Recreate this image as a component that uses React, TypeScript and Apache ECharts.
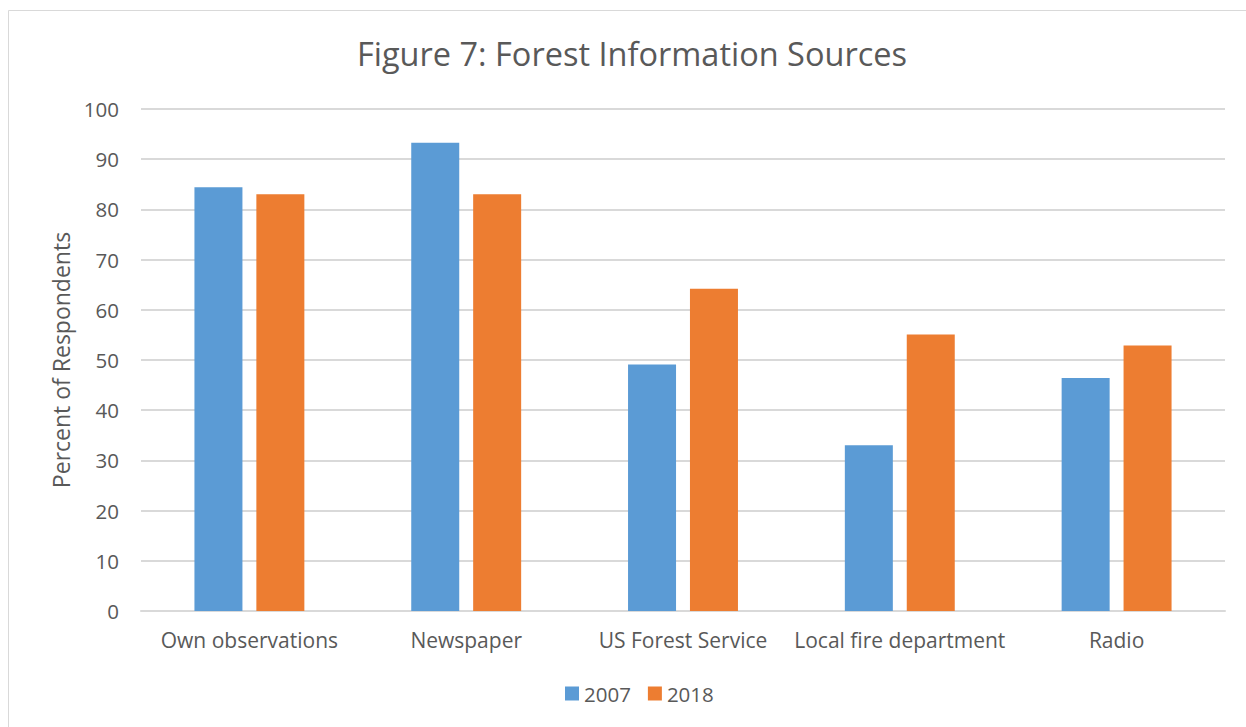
import React, { useEffect, useRef } from "react";
import * as echarts from "echarts";

const categories = ["Own observations", "Newspaper", "US Forest Service", "Local fire department", "Radio"];
const values2007 = [84.4, 93.3, 49.1, 33.0, 46.4];
const values2018 = [83.0, 83.0, 64.2, 55.1, 52.9];
const seriesNames = ["2007", "2018"];

const FONT = "'Open Sans', sans-serif";
const TXT = "#595959";

export default function App() {
  const ref = useRef<HTMLDivElement>(null);
  useEffect(() => {
    document.body.style.margin = "0";
    const chart = echarts.init(ref.current!, null, { renderer: "svg" });
    chart.setOption({
      animation: false,
      backgroundColor: "#ffffff",
      graphic: [
        { type: "line", shape: { x1: 8.5, y1: 10.5, x2: 1246, y2: 10.5 }, style: { stroke: "#d9d9d9", lineWidth: 1 } },
        { type: "line", shape: { x1: 8.5, y1: 10.5, x2: 8.5, y2: 727 }, style: { stroke: "#d9d9d9", lineWidth: 1 } },
      ],
      title: {
        text: "Figure 7: Forest Information Sources",
        left: 627,
        textAlign: "center",
        top: 32,
        textStyle: { fontFamily: FONT, fontSize: 32.5, fontWeight: "normal", color: TXT },
      },
      legend: {
        data: seriesNames,
        bottom: 18,
        left: 560,
        itemWidth: 14,
        itemHeight: 14,
        itemGap: 17,
        icon: "rect",
        textStyle: { fontFamily: FONT, fontSize: 20.5, color: TXT },
      },
      grid: { left: 141, right: 21, top: 109, bottom: 116 },
      xAxis: {
        type: "category",
        data: categories,
        axisLine: { lineStyle: { color: "#d9d9d9", width: 2 } },
        axisTick: { show: false },
        axisLabel: { interval: 0, fontFamily: FONT, fontSize: 21, color: TXT, margin: 18 },
      },
      yAxis: {
        type: "value",
        min: 0,
        max: 100,
        interval: 10,
        name: "Percent of Respondents",
        nameLocation: "middle",
        nameGap: 68,
        nameTextStyle: { fontFamily: FONT, fontSize: 23, color: TXT },
        axisLine: { show: false },
        axisTick: { show: false },
        axisLabel: { fontFamily: FONT, fontSize: 20.5, color: TXT, margin: 22 },
        splitLine: { lineStyle: { color: "#d9d9d9", width: 2 } },
      },
      series: [
        {
          name: seriesNames[0],
          type: "bar",
          data: values2007,
          barWidth: 48,
          barGap: "29%",
          itemStyle: { color: "#5B9BD5" },
        },
        {
          name: seriesNames[1],
          type: "bar",
          data: values2018,
          barWidth: 48,
          barGap: "29%",
          itemStyle: { color: "#ED7D31" },
        },
      ],
    });
    return () => chart.dispose();
  }, []);
  return <div ref={ref} style={{ width: 1246, height: 727, position: "absolute", left: 0, top: 0 }} />;
}
